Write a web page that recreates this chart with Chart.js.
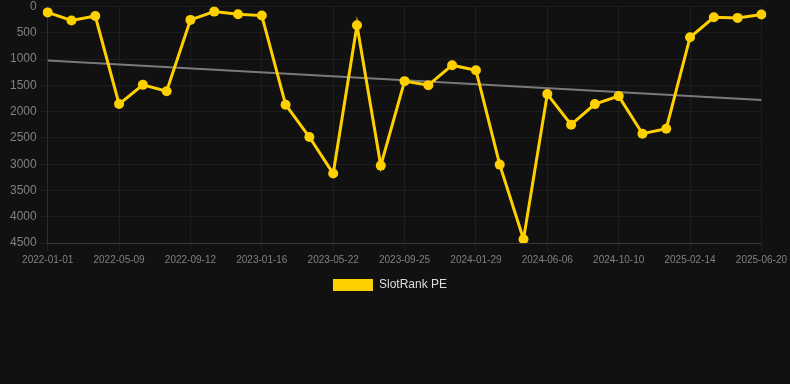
<!DOCTYPE html>
<html>
<head>
<meta charset="utf-8">
<script src="https://cdn.jsdelivr.net/npm/chart.js@4"></script>
<style>
  html, body { margin: 0; padding: 0; background: #111111; }
  #wrap { width: 790px; height: 301px; position: relative; }
</style>
</head>
<body>
<div id="wrap"><canvas id="c"></canvas></div>
<script>
const categories = [
  '2022-01-01','2022-02-12','2022-03-26','2022-05-09','2022-06-20','2022-08-01',
  '2022-09-12','2022-10-24','2022-12-05','2023-01-16','2023-02-27','2023-04-10',
  '2023-05-22','2023-07-03','2023-08-14','2023-09-25','2023-11-06','2023-12-18',
  '2024-01-29','2024-03-12','2024-04-24','2024-06-06','2024-07-18','2024-08-29',
  '2024-10-10','2024-11-21','2025-01-02','2025-02-14','2025-03-28','2025-05-09',
  '2025-06-20'
];
const slotRankPE = [
  110, 265, 180, 1855, 1490, 1610, 253, 95, 146, 171, 1867, 2482,
  3178, 355, 3027, 1419, 1495, 1115, 1210, 3008, 4427, 1666, 2248, 1856,
  1704, 2419, 2324, 583, 203, 215, 152
];
const trendStart = 1026;
const trendEnd = 1780;
const trend = categories.map((_, i) => i === 0 ? trendStart : (i === categories.length - 1 ? trendEnd : null));
const yTicks = { min: 0, max: 4500, step: 500 };

const yellow = '#FFD000';
new Chart(document.getElementById('c'), {
  type: 'line',
  data: {
    labels: categories,
    datasets: [
      {
        label: 'SlotRank PE',
        data: slotRankPE,
        borderColor: yellow,
        backgroundColor: yellow,
        borderWidth: 3,
        pointRadius: 5,
        pointHoverRadius: 5,
        pointBackgroundColor: yellow,
        pointBorderColor: yellow,
        pointBorderWidth: 0,
        tension: 0,
        fill: false
      },
      {
        label: 'Trend',
        data: trend,
        borderColor: '#7a7a7a',
        backgroundColor: '#7a7a7a',
        borderWidth: 2,
        pointRadius: 0,
        spanGaps: true,
        fill: false
      }
    ]
  },
  options: {
    responsive: true,
    maintainAspectRatio: false,
    animation: false,
    layout: { padding: { left: 7, right: 17, top: 0, bottom: 0 } },
    plugins: {
      legend: {
        position: 'bottom',
        labels: {
          color: '#dddddd',
          font: { size: 12 },
          boxWidth: 40,
          generateLabels: (chart) => {
            const items = Chart.defaults.plugins.legend.labels.generateLabels(chart);
            return items.filter(it => it.datasetIndex === 0).map(it => Object.assign(it, { lineWidth: 0, strokeStyle: 'transparent' }));
          }
        }
      },
      tooltip: { enabled: false }
    },
    scales: {
      x: {
        grid: { color: 'rgba(255,255,255,0.05)', tickColor: 'rgba(255,255,255,0.05)' },
        border: { color: 'rgba(255,255,255,0.12)' },
        ticks: {
          color: '#808080',
          font: { size: 10 },
          maxRotation: 0,
          minRotation: 0,
          autoSkip: true,
          maxTicksLimit: 11
        }
      },
      y: {
        reverse: true,
        min: yTicks.min,
        max: yTicks.max,
        grid: { color: 'rgba(255,255,255,0.05)', tickColor: 'rgba(255,255,255,0.05)' },
        border: { color: 'rgba(255,255,255,0.08)' },
        ticks: {
          color: '#808080',
          font: { size: 12, lineHeight: 0.6 },
          stepSize: yTicks.step,
          callback: (v) => String(v)
        }
      }
    }
  }
});
</script>
</body>
</html>
